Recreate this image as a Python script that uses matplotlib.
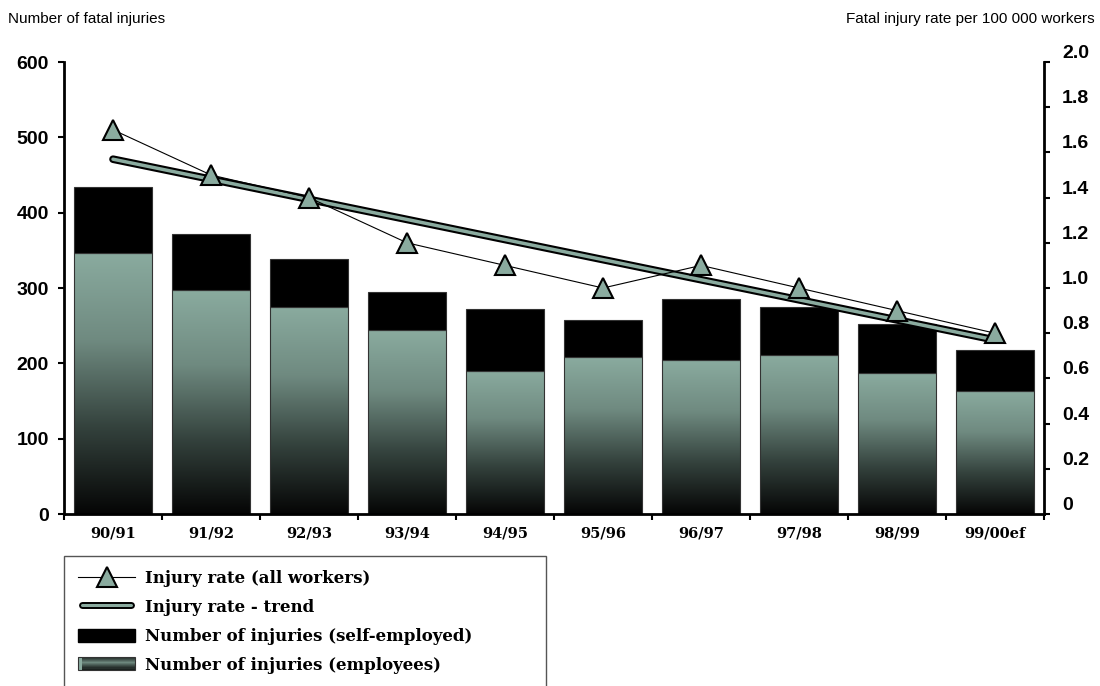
import matplotlib
matplotlib.use("Agg")
import matplotlib.pyplot as plt
import numpy as np
from matplotlib.colors import LinearSegmentedColormap
from matplotlib.legend_handler import HandlerBase
from matplotlib.lines import Line2D
from matplotlib.patches import Patch, Rectangle

# --- Daten -----------------------------------------------------------------
years = ["90/91", "91/92", "92/93", "93/94", "94/95",
         "95/96", "96/97", "97/98", "98/99", "99/00ef"]
employees = [346, 297, 275, 244, 190, 208, 204, 211, 187, 163]
self_employed = [88, 75, 63, 51, 82, 49, 81, 64, 65, 55]
rate_all = [1.7, 1.5, 1.4, 1.2, 1.1, 1.0, 1.1, 1.0, 0.9, 0.8]
trend_ends = [1.57, 0.77]

TEAL = "#8aab9f"
cmap = LinearSegmentedColormap.from_list("bar", ["#050505", "#34423d", "#6f8a80", TEAL])
SANS = ["Liberation Sans", "DejaVu Sans"]
SERIF = ["DejaVu Serif"]


class GradientHandler(HandlerBase):
    def create_artists(self, legend, orig, x0, y0, width, height, fontsize, trans):
        arts = []
        n = 12
        for i in range(n):
            c = cmap(0.15 + 0.5 * (1 - abs(i - n / 2) / (n / 2)))
            arts.append(Rectangle((x0, y0 + height * i / n), width, height / n,
                                  facecolor=c, edgecolor="none", transform=trans))
        arts.append(Rectangle((x0, y0), width * 0.07, height, facecolor=TEAL,
                              edgecolor="none", transform=trans))
        arts.append(Rectangle((x0, y0), width, height, facecolor="none",
                              edgecolor="#333333", lw=0.8, transform=trans))
        return arts


class TrendHandler(HandlerBase):
    def create_artists(self, legend, orig, x0, y0, width, height, fontsize, trans):
        y = y0 + height / 2
        a = Line2D([x0 + 3, x0 + width - 3], [y, y], color="black", lw=5,
                   solid_capstyle="round", transform=trans)
        b = Line2D([x0 + 3, x0 + width - 3], [y, y], color=TEAL, lw=2.2,
                   solid_capstyle="round", transform=trans)
        return [a, b]


fig = plt.figure(figsize=(11, 6.86), dpi=100)
ax = fig.add_axes([0.0582, 0.2507, 0.8909, 0.6589])
x = np.arange(len(years))
w = 0.8

# --- Balken mit Verlauf ------------------------------------------------------
grad = np.linspace(0, 1, 256).reshape(-1, 1)
for xi, e, s in zip(x, employees, self_employed):
    ax.imshow(grad, cmap=cmap, origin="lower", aspect="auto",
              extent=[xi - w / 2, xi + w / 2, 0, e], zorder=1)
    ax.add_patch(Rectangle((xi - w / 2, 0), w, e, facecolor="none",
                           edgecolor="#333333", lw=0.8, zorder=2))
ax.bar(x, self_employed, w, bottom=employees, color="black",
       edgecolor="#333333", lw=0.8, zorder=2)

ax.set_xlim(-0.5, len(years) - 0.5)
ax.set_ylim(0, 600)
ax.set_yticks(range(0, 601, 100))
ax.set_xticks(x)
ax.set_xticklabels(years, fontfamily=SERIF, fontweight="bold", fontsize=10.5)
ax.set_xticks(np.arange(-0.5, len(years)), minor=True)
ax.tick_params(axis="x", which="major", length=0, pad=9)
ax.tick_params(axis="x", which="minor", length=4, width=1.5, direction="out")
ax.tick_params(axis="y", length=4, width=1.5, direction="out", labelsize=14, pad=7)
for lab in ax.get_yticklabels():
    lab.set_fontfamily(SANS)
    lab.set_fontweight("bold")
ax.spines["top"].set_visible(False)
ax.spines["right"].set_visible(False)
ax.spines["left"].set_linewidth(2)
ax.spines["bottom"].set_linewidth(2)

# --- Rate auf zweiter Achse -------------------------------------------------
ax2 = ax.twinx()
ax2.set_ylim(0, 2.0)
ax2.set_yticks(np.arange(0, 2.01, 0.2))
ax2.set_yticklabels(["0"] + [f"{v:.1f}" for v in np.arange(0.2, 2.01, 0.2)])
ax2.tick_params(axis="y", length=4, width=1.5, direction="out", labelsize=14, pad=9)
for lab in ax2.get_yticklabels():
    lab.set_fontfamily(SANS)
    lab.set_fontweight("bold")
    lab.set_verticalalignment("bottom")
for side in ["top", "left", "bottom"]:
    ax2.spines[side].set_visible(False)
ax2.spines["right"].set_linewidth(2)

ax2.plot([x[0], x[-1]], trend_ends, color="black", lw=5.5,
         solid_capstyle="round", zorder=3)
ax2.plot([x[0], x[-1]], trend_ends, color=TEAL, lw=2.5,
         solid_capstyle="round", zorder=4)
ax2.plot(x, rate_all, color="black", lw=0.8, marker="^", markersize=14,
         markerfacecolor=TEAL, markeredgecolor="black", markeredgewidth=1.5,
         zorder=5)

fig.text(0.007, 0.973, "Number of fatal injuries", fontsize=11,
         fontfamily=SANS, va="center")
fig.text(0.995, 0.973, "Fatal injury rate per 100 000 workers", fontsize=11,
         fontfamily=SANS, va="center", ha="right")

# --- Legende ------------------------------------------------------------------
h_rate = Line2D([], [], color="black", lw=0.8, marker="^", markersize=14,
                markerfacecolor=TEAL, markeredgecolor="black", markeredgewidth=1.5)
h_trend = Line2D([], [], color=TEAL)
h_self = Patch(facecolor="black", edgecolor="black")
h_emp = Patch(facecolor=TEAL)
leg = fig.legend(
    [h_rate, h_trend, h_self, h_emp],
    ["Injury rate (all workers)", "Injury rate - trend",
     "Number of injuries (self-employed)", "Number of injuries (employees)"],
    handler_map={h_trend: TrendHandler(), h_emp: GradientHandler()},
    loc="upper left", bbox_to_anchor=(0.0582, -0.5, 0.4382, 0.6895),
    mode="expand", borderaxespad=0, fancybox=False, framealpha=1,
    edgecolor="#555555", handlelength=3.4, handleheight=0.8,
    labelspacing=0.72, borderpad=0.85, handletextpad=0.6,
    prop={"family": SERIF, "weight": "bold", "size": 12},
)
leg.get_frame().set_linewidth(1.0)

fig.savefig("out.png", dpi=100)
